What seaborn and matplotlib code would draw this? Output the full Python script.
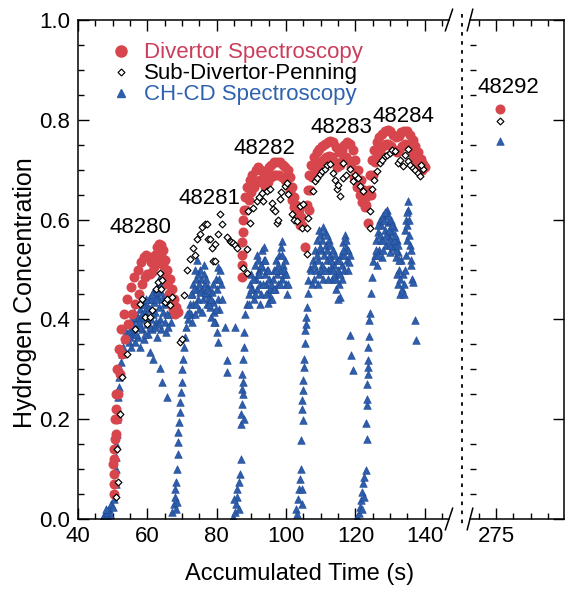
import matplotlib
matplotlib.use("Agg")
import matplotlib.pyplot as plt
from matplotlib.lines import Line2D
from matplotlib.ticker import MultipleLocator, FixedLocator
import seaborn as sns
import pandas as pd

# Divertor spectroscopy (time s, H concentration), per shot
div_48280 = [(50.3, 0.05), (50.5, 0.07), (50.4, 0.09), (50.2, 0.11), (50.5, 0.12), (50.4, 0.14), (50.6, 0.16),
             (50.9, 0.17), (51.0, 0.22),
             (50.8, 0.2), (51.0, 0.25), (51.3, 0.3), (51.8, 0.34), (52.5, 0.38), (53.3, 0.41), (54.2, 0.44),
             (55.2, 0.465), (56.2, 0.485), (57.2, 0.5), (58.2, 0.515), (59.0, 0.525), (59.7, 0.53), (60.4, 0.525),
             (61.0, 0.515), (61.6, 0.52), (62.2, 0.53), (62.8, 0.545), (63.4, 0.552), (64.0, 0.55), (64.6, 0.54),
             (65.2, 0.52), (65.8, 0.5), (66.4, 0.48), (67.0, 0.46), (67.6, 0.44), (68.2, 0.425), (68.7, 0.415),
             (51.2, 0.2), (51.6, 0.25), (52.0, 0.29), (52.7, 0.33), (53.5, 0.36), (54.5, 0.39), (55.5, 0.41),
             (56.5, 0.43), (57.5, 0.45), (58.5, 0.47), (59.3, 0.485), (60.0, 0.49), (60.7, 0.49), (61.3, 0.495),
             (62.0, 0.505), (62.7, 0.515), (63.3, 0.525), (63.9, 0.53), (64.5, 0.51), (65.0, 0.49), (65.6, 0.47),
             (66.2, 0.45), (66.8, 0.43), (67.4, 0.42), (68.0, 0.41)]
div_48282 = [(87.3, 0.485), (87.2, 0.51), (87.4, 0.53), (87.3, 0.555), (87.5, 0.575), (87.6, 0.6), (87.8, 0.62),
             (88.2, 0.645), (88.8, 0.665), (89.5, 0.68), (90.3, 0.69), (91.2, 0.7), (92.0, 0.705), (92.8, 0.7),
             (93.5, 0.69), (94.2, 0.695), (95.0, 0.705), (95.8, 0.71), (96.6, 0.715), (97.4, 0.715), (98.2, 0.715),
             (99.0, 0.71), (99.8, 0.705), (100.5, 0.7), (101.2, 0.685), (101.8, 0.665), (102.4, 0.645),
             (103.0, 0.63), (103.6, 0.62), (104.2, 0.605), (104.7, 0.59),
             (88.5, 0.62), (89.2, 0.64), (90.0, 0.655), (90.8, 0.665), (91.6, 0.675), (92.4, 0.68), (93.2, 0.675),
             (94.0, 0.665), (94.8, 0.675), (95.6, 0.685), (96.4, 0.69), (97.2, 0.69), (98.0, 0.69), (98.8, 0.685),
             (99.6, 0.68), (100.4, 0.67), (101.0, 0.655), (101.6, 0.64), (102.2, 0.625), (102.8, 0.61),
             (103.4, 0.6), (104.0, 0.59), (105.4, 0.545)]
div_48283 = [(106.0, 0.63), (106.3, 0.66), (106.7, 0.69), (107.3, 0.71), (108.0, 0.725), (108.8, 0.735),
             (109.6, 0.742), (110.4, 0.748), (111.2, 0.752), (112.0, 0.755), (112.8, 0.758), (113.6, 0.756),
             (114.4, 0.745), (115.2, 0.735), (116.0, 0.74), (116.8, 0.75), (117.6, 0.755), (118.4, 0.752),
             (119.2, 0.74), (120.0, 0.72), (120.8, 0.7), (121.6, 0.68), (122.4, 0.66), (123.0, 0.645),
             (106.5, 0.62), (107.0, 0.66), (107.6, 0.685), (108.4, 0.7), (109.2, 0.71), (110.0, 0.715),
             (110.8, 0.72), (111.6, 0.725), (112.4, 0.728), (113.2, 0.725), (114.0, 0.715), (114.8, 0.705),
             (115.6, 0.71), (116.4, 0.72), (117.2, 0.725), (118.0, 0.72), (118.8, 0.705), (119.6, 0.685),
             (120.4, 0.665), (121.2, 0.65), (122.0, 0.635), (122.8, 0.625), (123.2, 0.63), (123.6, 0.594)]
div_48284 = [(124.0, 0.66), (124.3, 0.69), (124.8, 0.72), (125.4, 0.74), (126.1, 0.755), (126.9, 0.765),
             (127.7, 0.772), (128.5, 0.778), (129.3, 0.78), (130.1, 0.778), (130.9, 0.77), (131.7, 0.765),
             (132.5, 0.768), (133.3, 0.775), (134.1, 0.778), (134.9, 0.778), (135.7, 0.77), (136.5, 0.76),
             (137.3, 0.748), (138.1, 0.735), (138.9, 0.722), (139.6, 0.712), (140.2, 0.705),
             (124.5, 0.65), (125.0, 0.69), (125.6, 0.715), (126.3, 0.73), (127.1, 0.74), (127.9, 0.748),
             (128.7, 0.752), (129.5, 0.752), (130.3, 0.748), (131.1, 0.74), (131.9, 0.735), (132.7, 0.74),
             (133.5, 0.748), (134.3, 0.752), (135.1, 0.75), (135.9, 0.742), (136.7, 0.73), (137.5, 0.718),
             (138.3, 0.708), (139.1, 0.7)]
div_48292 = [(276.2, 0.822)]

# Sub-divertor Penning gauge
pen_48280 = [(51.0, 0.045), (51.4, 0.075), (51.3, 0.14), (52.0, 0.21), (52.8, 0.285), (54.0, 0.33), (56.5, 0.38),
             (57.8, 0.43), (58.4, 0.44), (59.2, 0.405), (60.0, 0.39), (60.7, 0.405), (61.3, 0.418), (62.5, 0.46),
             (63.1, 0.475), (63.6, 0.492), (64.2, 0.478), (64.0, 0.46), (65.1, 0.434), (65.8, 0.44),
             (66.5, 0.428), (67.1, 0.444)]
pen_48281 = [(69.4, 0.354), (70.0, 0.36), (70.5, 0.448), (71.4, 0.498), (72.3, 0.522), (73.1, 0.544),
             (73.6, 0.53), (74.3, 0.562), (75.2, 0.572), (75.8, 0.585), (76.6, 0.592), (77.2, 0.592),
             (77.5, 0.562), (78.0, 0.562), (78.6, 0.544), (79.5, 0.552), (78.9, 0.518), (79.5, 0.518),
             (80.3, 0.572), (80.9, 0.612), (81.5, 0.592), (82.9, 0.566), (83.8, 0.558), (84.2, 0.555),
             (84.7, 0.554), (85.3, 0.55), (85.8, 0.543)]
pen_48282 = [(87.6, 0.504), (88.7, 0.492), (88.7, 0.542), (89.0, 0.618), (89.6, 0.594), (90.4, 0.624),
             (91.6, 0.638), (92.3, 0.645), (93.0, 0.654), (93.3, 0.638), (94.5, 0.658), (95.3, 0.662),
             (95.9, 0.634), (96.2, 0.622), (96.8, 0.618), (97.3, 0.594), (97.6, 0.6), (98.2, 0.642),
             (98.6, 0.655), (99.7, 0.668), (100.2, 0.674), (100.5, 0.652), (101.7, 0.612), (102.4, 0.6),
             (103.1, 0.598), (104.0, 0.628), (104.6, 0.584), (104.8, 0.632)]
pen_48283 = [(106.0, 0.532), (106.0, 0.584), (106.3, 0.604), (107.7, 0.658), (108.3, 0.678), (109.0, 0.684),
             (109.7, 0.692), (110.4, 0.698), (111.2, 0.702), (111.8, 0.71), (112.6, 0.712), (113.5, 0.694),
             (114.0, 0.68), (114.6, 0.662), (115.0, 0.67), (115.5, 0.648), (116.4, 0.714), (116.4, 0.684),
             (117.2, 0.69), (118.4, 0.702), (119.3, 0.678), (119.8, 0.69), (120.7, 0.684), (121.3, 0.668),
             (122.1, 0.658), (124.1, 0.618), (124.1, 0.584), (124.7, 0.662)]
pen_48284 = [(125.5, 0.68), (126.2, 0.698), (127.0, 0.714), (127.6, 0.72), (128.5, 0.728), (129.2, 0.73),
             (129.9, 0.734), (130.6, 0.74), (131.4, 0.738), (132.2, 0.714), (132.8, 0.72), (133.7, 0.708),
             (134.3, 0.73), (135.1, 0.742), (135.1, 0.718), (135.8, 0.71), (136.5, 0.704), (137.2, 0.7),
             (138.0, 0.694), (138.6, 0.688), (139.4, 0.702), (139.0, 0.71)]
pen_48292 = [(276.2, 0.798)]

# CH-CD spectroscopy
chcd_48280 = [(47.3, 0.005), (47.8, 0.01), (48.2, 0.005), (48.5, 0.015), (48.9, 0.02), (49.3, 0.01),
              (49.6, 0.03), (50.0, 0.025), (50.3, 0.04), (49.0, 0.0), (50.6, 0.05), (48.0, 0.02),
              (50.9, 0.07), (51.0, 0.1), (51.0, 0.125), (51.1, 0.15), (51.2, 0.17), (51.3, 0.2), (51.4, 0.22),
              (51.5, 0.245), (51.7, 0.265), (51.9, 0.285), (52.1, 0.3), (52.4, 0.315), (52.7, 0.33),
              (53.0, 0.345), (53.5, 0.36), (54.2, 0.37), (54.8, 0.355), (55.5, 0.39), (55.8, 0.37),
              (56.3, 0.355), (56.6, 0.4), (57.0, 0.385), (57.4, 0.365), (57.8, 0.42), (58.2, 0.4), (58.5, 0.38),
              (58.9, 0.36), (59.2, 0.43), (59.5, 0.41), (59.8, 0.39), (60.2, 0.37), (60.5, 0.44), (60.8, 0.42),
              (61.1, 0.4), (61.4, 0.38), (61.7, 0.455), (62.0, 0.435), (62.3, 0.415), (62.6, 0.395),
              (62.9, 0.465), (63.1, 0.445), (63.4, 0.425), (63.7, 0.4), (64.0, 0.38), (64.3, 0.44),
              (64.6, 0.415), (65.0, 0.395), (65.4, 0.375), (55.2, 0.38), (57.2, 0.405), (59.0, 0.415),
              (61.0, 0.44), (63.0, 0.46), (60.0, 0.405), (58.0, 0.385), (56.0, 0.39), (62.2, 0.45), (54.5, 0.39),
              (63.5, 0.48), (64.2, 0.47), (66.2, 0.41), (66.8, 0.395), (62.8, 0.364),
              (53.8, 0.375), (54.6, 0.375), (55.0, 0.365), (55.9, 0.405), (56.8, 0.37), (57.6, 0.395),
              (58.6, 0.41), (59.4, 0.37), (60.3, 0.425), (60.9, 0.385), (61.6, 0.41), (62.1, 0.385),
              (62.6, 0.44), (63.3, 0.39), (63.9, 0.455), (64.8, 0.43), (65.6, 0.41), (66.0, 0.385),
              (65.3, 0.45), (61.3, 0.45), (59.7, 0.44), (58.8, 0.43), (56.2, 0.415), (55.4, 0.345), (57.9, 0.345),
              (60.7, 0.334), (61.5, 0.32), (63.6, 0.302), (64.2, 0.274), (65.6, 0.244)]
chcd_48281 = [(67.2, 0.015), (67.6, 0.03), (67.9, 0.045), (68.2, 0.02), (68.5, 0.035), (68.0, 0.06),
              (68.3, 0.075), (68.5, 0.1), (68.7, 0.13), (68.8, 0.155), (68.9, 0.175), (69.2, 0.195),
              (69.3, 0.215), (69.5, 0.235), (69.7, 0.255), (69.9, 0.275), (70.1, 0.3), (70.3, 0.32),
              (70.6, 0.345), (70.9, 0.365), (71.2, 0.385),
              (71.8, 0.4), (72.2, 0.43), (72.6, 0.41), (73.0, 0.45), (73.3, 0.43), (73.6, 0.41), (73.9, 0.48),
              (74.2, 0.46), (74.5, 0.44), (74.8, 0.42), (75.1, 0.5), (75.4, 0.48), (75.7, 0.46), (76.0, 0.44),
              (76.3, 0.49), (76.6, 0.47), (76.9, 0.45), (77.2, 0.43), (77.5, 0.465), (77.8, 0.445),
              (78.1, 0.425), (78.4, 0.405), (78.7, 0.455), (79.0, 0.435), (79.3, 0.415), (79.6, 0.395),
              (79.9, 0.48), (80.2, 0.46), (80.5, 0.44), (80.1, 0.375), (80.4, 0.355), (80.3, 0.505),
              (80.8, 0.42), (74.3, 0.52), (75.0, 0.47), (73.2, 0.47), (77.0, 0.48), (81.2, 0.47), (81.6, 0.44),
              (72.0, 0.415), (72.9, 0.395), (73.5, 0.46), (74.0, 0.43), (74.6, 0.49), (75.3, 0.455),
              (75.9, 0.415), (76.5, 0.455), (77.1, 0.46), (77.7, 0.43), (78.3, 0.44), (78.9, 0.47),
              (79.2, 0.395), (79.8, 0.42), (80.7, 0.48), (81.0, 0.5), (76.2, 0.51), (73.6, 0.5), (72.5, 0.45),
              (71.5, 0.41),
              (82.4, 0.384), (82.9, 0.318), (82.9, 0.294), (85.2, 0.384)]
chcd_48282 = [(84.8, 0.005), (85.2, 0.015), (85.5, 0.03), (85.8, 0.045), (86.0, 0.06), (86.3, 0.075),
              (86.5, 0.02), (85.0, 0.04), (86.8, 0.09), (86.9, 0.12), (87.0, 0.19), (87.1, 0.21), (87.2, 0.23),
              (87.3, 0.26), (87.4, 0.29), (87.6, 0.32), (87.8, 0.345), (88.0, 0.375), (88.3, 0.41),
              (88.6, 0.43), (87.5, 0.25), (87.7, 0.275), (87.9, 0.2),
              (89.2, 0.45), (89.6, 0.47), (90.0, 0.49), (90.3, 0.46), (90.7, 0.44), (91.0, 0.51), (91.3, 0.48),
              (91.6, 0.46), (92.0, 0.52), (92.3, 0.5), (92.6, 0.47), (92.9, 0.45), (93.2, 0.54), (93.5, 0.52),
              (93.8, 0.49), (94.1, 0.47), (94.4, 0.5), (94.7, 0.455), (95.0, 0.48), (95.4, 0.44), (95.8, 0.46),
              (96.2, 0.48), (96.6, 0.5), (96.9, 0.46), (97.2, 0.52), (97.5, 0.49), (97.8, 0.47), (98.1, 0.53),
              (98.4, 0.5), (98.7, 0.48), (99.0, 0.51), (99.3, 0.49), (99.6, 0.52), (99.9, 0.47), (100.2, 0.45),
              (98.8, 0.558), (93.0, 0.505), (91.8, 0.49), (94.8, 0.432), (92.4, 0.43),
              (89.4, 0.43), (89.9, 0.46), (90.5, 0.48), (91.1, 0.45), (91.5, 0.53), (92.1, 0.49), (92.8, 0.51),
              (93.4, 0.47), (94.0, 0.52), (94.3, 0.45), (94.9, 0.5), (95.6, 0.47), (96.0, 0.44), (96.4, 0.46),
              (97.0, 0.5), (97.7, 0.51), (98.3, 0.47), (98.9, 0.53), (99.5, 0.5), (100.0, 0.49), (100.5, 0.47),
              (98.5, 0.545), (93.6, 0.545)]
chcd_48283 = [(103.0, 0.02), (103.4, 0.04), (103.7, 0.06), (104.0, 0.08), (104.3, 0.1), (103.2, 0.01),
              (104.5, 0.03), (104.6, 0.06), (104.3, 0.158), (104.9, 0.198), (104.7, 0.238), (104.9, 0.258),
              (105.2, 0.304), (105.2, 0.32), (105.5, 0.352), (105.6, 0.378), (105.9, 0.404), (106.0, 0.424),
              (106.2, 0.452), (106.4, 0.478), (106.8, 0.504), (105.0, 0.278), (104.6, 0.22), (105.8, 0.39),
              (107.3, 0.5), (107.7, 0.52), (108.0, 0.48), (108.3, 0.54), (108.6, 0.5), (109.0, 0.56),
              (109.3, 0.52), (109.6, 0.49), (109.9, 0.57), (110.2, 0.54), (110.5, 0.51), (110.8, 0.48),
              (111.1, 0.575), (111.4, 0.55), (111.7, 0.52), (112.0, 0.5), (112.3, 0.56), (112.6, 0.53),
              (112.9, 0.505), (113.2, 0.48), (113.5, 0.54), (113.8, 0.51), (114.1, 0.49), (114.4, 0.46),
              (114.7, 0.52), (115.0, 0.5), (115.3, 0.47), (115.6, 0.445), (115.9, 0.53), (116.2, 0.51),
              (116.5, 0.555), (116.8, 0.53), (117.1, 0.57), (117.4, 0.545), (117.7, 0.52), (118.0, 0.54),
              (118.3, 0.515), (110.6, 0.585), (114.9, 0.44), (116.0, 0.48),
              (107.5, 0.47), (108.1, 0.51), (108.8, 0.53), (109.2, 0.47), (109.7, 0.545), (110.0, 0.5),
              (110.4, 0.56), (110.9, 0.53), (111.3, 0.5), (111.9, 0.54), (112.2, 0.48), (112.7, 0.55),
              (113.0, 0.52), (113.6, 0.5), (114.2, 0.53), (114.5, 0.48), (115.2, 0.52), (115.7, 0.49),
              (116.3, 0.54), (116.7, 0.5), (117.3, 0.56), (117.9, 0.5), (118.5, 0.53), (109.5, 0.58),
              (111.8, 0.57),
              (118.4, 0.368), (118.8, 0.328), (119.3, 0.298)]
chcd_48284 = [(120.6, 0.005), (121.0, 0.012), (121.3, 0.025), (121.6, 0.038), (122.0, 0.055), (122.3, 0.072),
              (122.6, 0.085), (123.0, 0.098), (121.8, 0.02), (122.5, 0.045),
              (123.2, 0.192), (123.3, 0.228), (123.4, 0.24), (123.5, 0.304), (123.6, 0.318), (123.7, 0.344),
              (123.8, 0.366), (124.0, 0.398), (124.1, 0.412), (124.4, 0.452), (124.8, 0.484), (125.2, 0.518),
              (123.4, 0.27), (123.3, 0.16), (123.6, 0.29),
              (125.6, 0.53), (126.0, 0.56), (126.3, 0.51), (126.6, 0.575), (126.9, 0.54), (127.2, 0.6),
              (127.5, 0.56), (127.8, 0.525), (128.1, 0.61), (128.4, 0.58), (128.7, 0.55), (129.0, 0.62),
              (129.3, 0.595), (129.6, 0.565), (129.9, 0.535), (130.2, 0.6), (130.5, 0.575), (130.8, 0.545),
              (131.1, 0.585), (131.4, 0.555), (131.7, 0.525), (132.0, 0.56), (132.3, 0.535), (132.6, 0.5),
              (131.9, 0.49), (132.4, 0.47), (132.8, 0.45), (133.2, 0.52), (133.6, 0.49), (128.0, 0.54),
              (130.0, 0.55),
              (125.9, 0.54), (126.5, 0.53), (127.0, 0.57), (127.4, 0.59), (127.9, 0.56), (128.3, 0.6),
              (128.9, 0.57), (129.4, 0.61), (129.7, 0.58), (130.1, 0.56), (130.6, 0.59), (131.0, 0.56),
              (131.3, 0.57), (131.8, 0.54), (132.2, 0.55), (132.6, 0.52), (133.0, 0.48), (133.4, 0.46),
              (134.3, 0.58), (134.6, 0.6), (135.3, 0.62), (135.7, 0.55), (136.0, 0.52), (126.4, 0.59),
              (128.5, 0.615),
              (134.2, 0.5), (134.5, 0.53), (134.8, 0.56), (135.0, 0.59), (134.9, 0.615), (135.1, 0.638),
              (135.4, 0.6), (135.6, 0.57), (135.9, 0.54), (136.1, 0.51), (136.4, 0.48), (133.9, 0.47),
              (134.0, 0.45), (136.5, 0.474), (137.1, 0.398), (137.5, 0.358)]
chcd_48292 = [(276.2, 0.758)]

shot_labels = ["48280", "48281", "48282", "48283", "48284"]
shot_label_pos = [(57.9, 0.584), (78.0, 0.642), (93.9, 0.742), (116.0, 0.784), (134.0, 0.806)]
late_label = "48292"
late_label_pos = (278.5, 0.864)

RED = "#d6464c"
BLUE = "#2c5eab"
BLUE_EDGE = "#1d4591"


def frame(pairs):
    return pd.DataFrame(pairs, columns=["t", "h"])


div = frame(div_48280 + div_48282 + div_48283 + div_48284)
pen = frame(pen_48280 + pen_48281 + pen_48282 + pen_48283 + pen_48284)
chcd = frame(chcd_48280 + chcd_48281 + chcd_48282 + chcd_48283 + chcd_48284)

sns.set_theme(style="ticks", rc={"text.color": "black", "axes.labelcolor": "black",
                                 "xtick.color": "black", "ytick.color": "black",
                                 "axes.edgecolor": "black"})
plt.rcParams["font.family"] = ["Liberation Sans", "DejaVu Sans"]
plt.rcParams["font.size"] = 16

fig = plt.figure(figsize=(5.67, 5.89), dpi=100)
ax = fig.add_axes([78 / 567, 1 - 519 / 589, 371 / 567, 499 / 589])
ax2 = fig.add_axes([470 / 567, 1 - 519 / 589, 94 / 567, 499 / 589])


def draw(a, d, p, c):
    sns.scatterplot(data=c, x="t", y="h", ax=a, marker="^", color=BLUE, edgecolor=BLUE_EDGE,
                    s=30, linewidth=0.4, zorder=2)
    sns.scatterplot(data=d, x="t", y="h", ax=a, marker="o", color=RED, s=52, linewidth=0, zorder=3)
    sns.scatterplot(data=p, x="t", y="h", ax=a, marker="D", color="white", edgecolor="black",
                    s=12, linewidth=0.85, zorder=4)


draw(ax, div, pen, chcd)
draw(ax2, frame(div_48292), frame(pen_48292), frame(chcd_48292))

ax.set_xlim(40, 147)
ax2.set_xlim(267.5, 294.6)
for a in (ax, ax2):
    a.set_ylim(0, 1.0)
    a.set_xlabel("")
    a.set_ylabel("")
    a.yaxis.set_major_locator(MultipleLocator(0.2))
    a.yaxis.set_minor_locator(MultipleLocator(0.05))
    a.tick_params(which="both", direction="in", top=True, bottom=True, width=1, labelsize=16)
    a.tick_params(which="major", length=8)
    a.tick_params(which="minor", length=4.5)
    for sp in a.spines.values():
        sp.set_linewidth(1.1)

ax.xaxis.set_major_locator(MultipleLocator(20))
ax.xaxis.set_minor_locator(MultipleLocator(5))
ax.spines["right"].set_visible(False)
ax.tick_params(axis="y", left=True, right=False, pad=5.5)
ax.tick_params(axis="x", pad=5)
ax.set_yticks([0, 0.2, 0.4, 0.6, 0.8, 1.0], ["0.0", "0.2", "0.4", "0.6", "0.8", "1.0"])

ax2.xaxis.set_major_locator(FixedLocator([275]))
ax2.xaxis.set_minor_locator(FixedLocator([270, 280, 285, 290]))
ax2.spines["left"].set_visible(False)
ax2.tick_params(axis="y", left=False, right=True, labelleft=False, labelright=False)
ax2.tick_params(axis="x", pad=5)

for txt, (x, y) in zip(shot_labels, shot_label_pos):
    ax.text(x, y, txt, ha="center", va="center", fontsize=16)
ax2.text(late_label_pos[0], late_label_pos[1], late_label, ha="center", va="center", fontsize=16)

# axis break marks
kw = dict(color="black", lw=1.1, clip_on=False)
for yy in (0, 1):
    ax.plot([0.99, 1.01], [yy - 0.022, yy + 0.022], transform=ax.transAxes, **kw)
    ax2.plot([-0.03, 0.03], [yy - 0.022, yy + 0.022], transform=ax2.transAxes, **kw)
fig.add_artist(Line2D([462 / 567, 462 / 567], [1 - 14 / 589, 1 - 528 / 589], color="black",
                      lw=1.3, linestyle=(0, (2, 3))))

handles = [
    Line2D([], [], marker="o", ls="", color=RED, markersize=8),
    Line2D([], [], marker="D", ls="", markerfacecolor="white", markeredgecolor="black",
           markersize=3.5, markeredgewidth=0.85),
    Line2D([], [], marker="^", ls="", color=BLUE, markersize=6),
]
leg = ax.legend(handles, ["Divertor Spectroscopy", "Sub-Divertor-Penning", "CH-CD Spectroscopy"],
                loc="upper left", bbox_to_anchor=(0.085, 0.955), frameon=False, fontsize=16,
                handlelength=1.0, handletextpad=0.55, labelspacing=0.0, borderpad=0, borderaxespad=0)
for t, c in zip(leg.get_texts(), ["#cc3d5c", "black", "#2f62ae"]):
    t.set_color(c)

fig.text(25 / 567, 1 - 293 / 589, "Hydrogen Concentration", rotation=90, ha="center", va="center",
         fontsize=18)
fig.text(300 / 567, 1 - 574 / 589, "Accumulated Time (s)", ha="center", va="center", fontsize=17)

fig.savefig("out.png", dpi=100)
